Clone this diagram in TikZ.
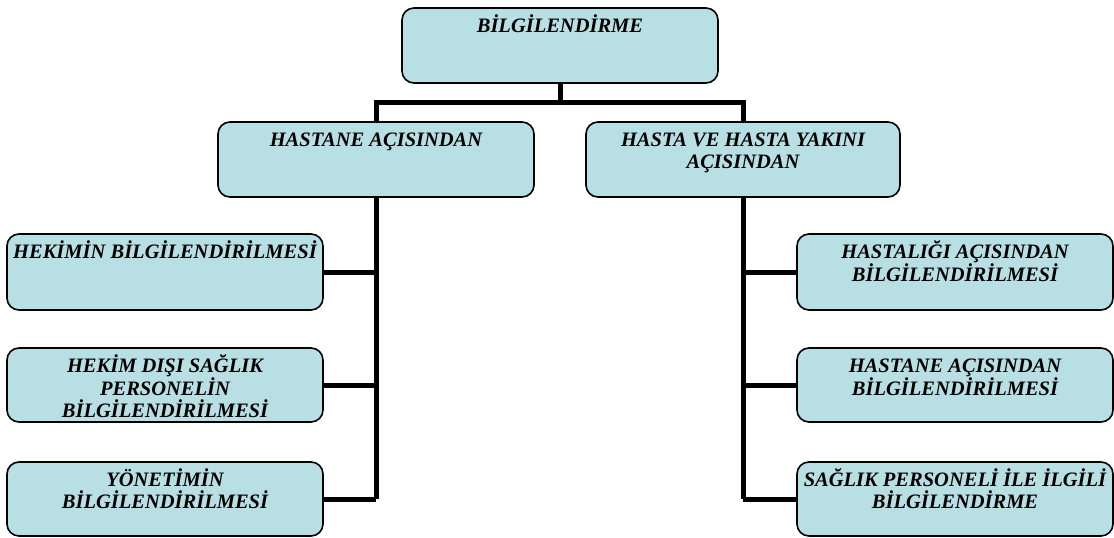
\documentclass[tikz,border=0pt]{standalone}
\usepackage{fontspec}
\setmainfont{Liberation Serif}
\usetikzlibrary{calc}
\definecolor{boxfill}{RGB}{184,223,227}
\newcommand{\boxlabel}[3]{\parbox[c][#2][t]{#1}{\centering\rule{0pt}{24pt}#3}}
\begin{document}
\begin{tikzpicture}[x=1pt,y=-1pt,
  orgbox/.style={draw=black,line width=1.6pt,fill=boxfill,rounded corners=12pt,
    inner sep=0pt,font=\fontsize{20.5}{22}\selectfont\bfseries\itshape},
  conn/.style={draw=black,line width=5pt}]
\useasboundingbox (0,0) rectangle (1114,538);

% boxes
\node[orgbox] (top) at (560,45.5) {\boxlabel{316pt}{75pt}{BİLGİLENDİRME}};
\node[orgbox] (hl) at (376,159.5) {\boxlabel{316pt}{75pt}{HASTANE AÇISINDAN}};
\node[orgbox] (hr) at (743,159.5) {\boxlabel{314pt}{75pt}{HASTA VE HASTA YAKINI\\AÇISINDAN}};

\node[orgbox] (l1) at (165,272) {\boxlabel{316pt}{76pt}{HEKİMİN BİLGİLENDİRİLMESİ}};
\node[orgbox] (l2) at (165,385) {\boxlabel{316pt}{74pt}{HEKİM DIŞI SAĞLIK\\PERSONELİN\\BİLGİLENDİRİLMESİ}};
\node[orgbox] (l3) at (165,499) {\boxlabel{316pt}{74pt}{YÖNETİMİN\\BİLGİLENDİRİLMESİ}};

\node[orgbox] (r1) at (955,272) {\boxlabel{316pt}{76pt}{HASTALIĞI AÇISINDAN\\BİLGİLENDİRİLMESİ}};
\node[orgbox] (r2) at (955,385) {\boxlabel{316pt}{74pt}{HASTANE AÇISINDAN\\BİLGİLENDİRİLMESİ}};
\node[orgbox] (r3) at (955,499) {\boxlabel{316pt}{74pt}{SAĞLIK PERSONELİ İLE İLGİLİ\\BİLGİLENDİRME}};

% connectors
\coordinate (bus) at (560,102);
\draw[conn] (top.south) -- (bus);
\draw[conn] (hl.north) -- (hl.north |- bus) -- (hr.north |- bus) -- (hr.north);
\draw[conn] (hl.south) -- (hl.south |- l3.east);
\draw[conn] (hr.south) -- (hr.south |- r3.west);
\draw[conn] (l1.east) -- (l1.east -| hl.south);
\draw[conn] (l2.east) -- (l2.east -| hl.south);
\draw[conn] (l3.east) -- (l3.east -| hl.south);
\draw[conn] (r1.west) -- (r1.west -| hr.south);
\draw[conn] (r2.west) -- (r2.west -| hr.south);
\draw[conn] (r3.west) -- (r3.west -| hr.south);
\end{tikzpicture}
\end{document}
